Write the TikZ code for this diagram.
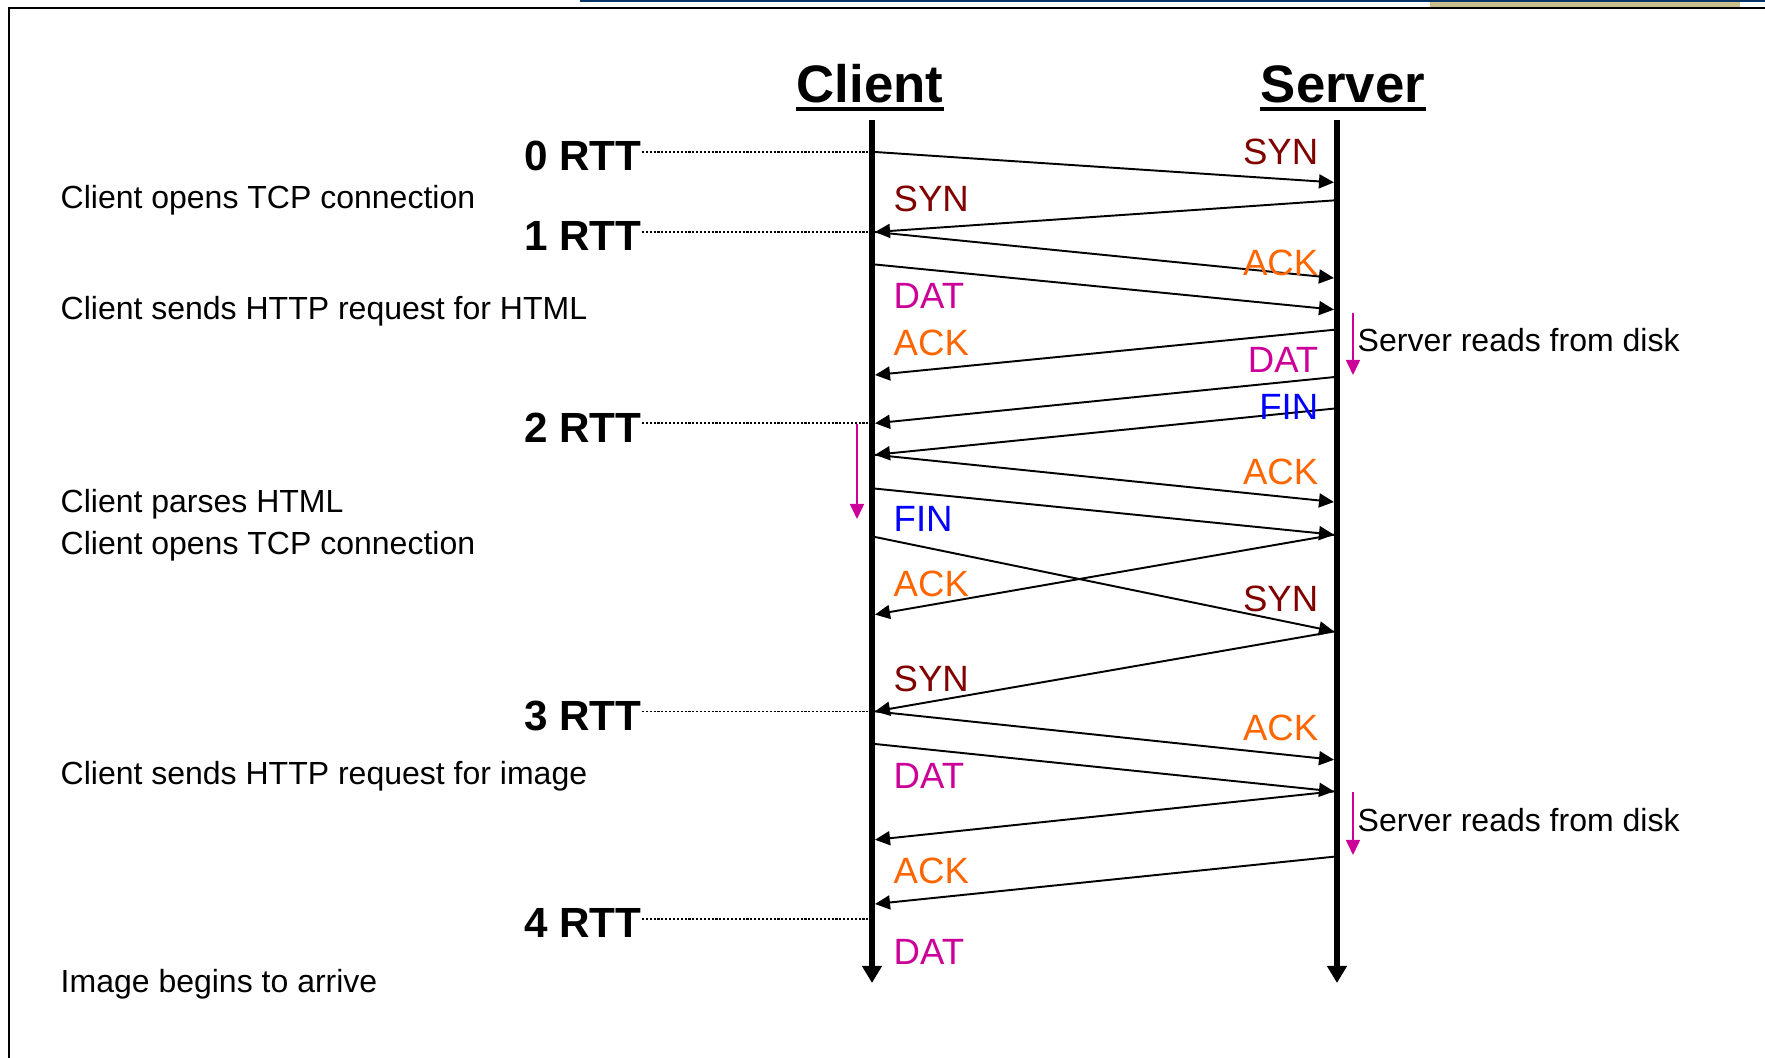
\documentclass[tikz,border=0pt]{standalone}
\usepackage{fontspec}
\setmainfont{Liberation Sans}
\usetikzlibrary{arrows.meta}

\definecolor{synred}{RGB}{128,0,0}
\definecolor{ackorange}{RGB}{255,102,0}
\definecolor{datmag}{RGB}{204,0,153}
\definecolor{finblue}{RGB}{0,0,255}
\definecolor{barnavy}{RGB}{0,51,102}
\definecolor{barkhaki}{RGB}{200,192,140}

\tikzstyle{msg}=[-{Triangle[length=0.15cm,width=0.14cm]}, line width=0.55pt]
\tikzstyle{lifeline}=[line width=1.6pt, -{Triangle[length=0.17cm,width=0.19cm]}]
\tikzstyle{busy}=[-{Triangle[length=0.15cm,width=0.14cm]}, line width=0.45pt, datmag]
\tikzstyle{rttmark}=[line width=0.5pt, dash pattern=on 0.6pt off 0.5pt]

\begin{document}
\begin{tikzpicture}[x=0.01cm, y=-0.01cm,
    head/.style = {font=\fontsize{15}{18}\selectfont\bfseries, inner sep=0pt, anchor=base},
    rtt/.style = {font=\fontsize{12}{14}\selectfont\bfseries, inner sep=0pt, anchor=base east},
    note/.style = {font=\fontsize{9.1}{11}\selectfont, inner sep=0pt, anchor=base west},
    sl/.style = {font=\fontsize{10.4}{12}\selectfont, inner sep=0pt, anchor=east},
    cl/.style = {font=\fontsize{10.4}{12}\selectfont, inner sep=0pt, anchor=west}]

    \useasboundingbox (0,0) rectangle (1765,1058);

    % slide frame
    \fill[barnavy] (580,0) rectangle (1765,2.5);
    \fill[barkhaki] (1430,2.5) rectangle (1740,7);
    \draw[line width=0.022cm] (9,1058) -- (9,8) -- (1765,8);

    % titles
    \node[head] (cli) at (870,103) {Client};
    \node[head] (srv) at (1343,103) {Server};
    \draw[line width=0.035cm] ([yshift=-0.06cm]cli.base west) -- ([yshift=-0.06cm]cli.base east);
    \draw[line width=0.035cm] ([yshift=-0.06cm]srv.base west) -- ([yshift=-0.06cm]srv.base east);

    % lifelines
    \coordinate (ctop) at (872,120);
    \coordinate (cend) at (872,983);
    \coordinate (stop) at (1337,120);
    \coordinate (send) at (1337,983);
    \draw[lifeline] (ctop) -- (cend);
    \draw[lifeline] (stop) -- (send);

    % message ends
    \foreach \n/\y in {1/152, 2/232, 3/264.5, 4/375, 5/423.3, 6/454.8, 7/488.6,
                       8/537, 9/614.6, 10/711.4, 11/744, 12/839.8, 13/904}
      \coordinate (c\n) at (875,\y);
    \foreach \n/\y in {1/182.4, 2/200.4, 3/278, 4/309.6, 5/329.8, 6/377.1, 7/408.6,
                       8/502, 9/534.7, 10/631.5, 11/759.8, 12/791.4, 13/856.7}
      \coordinate (s\n) at (1334,\y);
    \coordinate (c14) at (875,919.3);

    \path[msg]
    (c1) edge (s1)
    (s2) edge (c2)
    (c2) edge (s3)
    (c3) edge (s4)
    (s5) edge (c4)
    (s6) edge (c5)
    (s7) edge (c6)
    (c6) edge (s8)
    (c7) edge (s9)
    (s9) edge (c9)
    (c8) edge (s10)
    (s10) edge (c10)
    (c10) edge (s11)
    (c11) edge (s12)
    (s12) edge (c12)
    (s13) edge (c13);

    % server side labels
    \node[sl, text=synred] (ls1) at (1319,152) {SYN};
    \node[sl, text=ackorange] (ls2) at (1319,263) {ACK};
    \node[sl, text=datmag] (ls3) at (1319,360) {DAT};
    \node[sl, text=finblue] (ls4) at (1319,407) {FIN};
    \node[sl, text=ackorange] (ls5) at (1319,471.7) {ACK};
    \node[sl, text=synred] (ls6) at (1319,599) {SYN};
    \node[sl, text=ackorange] (ls7) at (1319,727.5) {ACK};

    % client side labels
    \node[cl, text=synred] (lc1) at (893,199) {SYN};
    \node[cl, text=datmag] (lc2) at (893,296) {DAT};
    \node[cl, text=ackorange] (lc3) at (893,343) {ACK};
    \node[cl, text=finblue] (lc4) at (893,519) {FIN};
    \node[cl, text=ackorange] (lc5) at (893,583.5) {ACK};
    \node[cl, text=synred] (lc6) at (893,679) {SYN};
    \node[cl, text=datmag] (lc7) at (893,775.5) {DAT};
    \node[cl, text=ackorange] (lc8) at (893,871) {ACK};
    \node[cl, text=datmag] (lc9) at (893,952) {DAT};

    % round trips
    \node[rtt] (r0) at (642,171) {0 RTT};
    \node[rtt] (r1) at (642,251) {1 RTT};
    \node[rtt] (r2) at (642,443) {2 RTT};
    \node[rtt] (r3) at (642,731) {3 RTT};
    \node[rtt] (r4) at (642,938) {4 RTT};
    \draw[rttmark] (r0.base east |- c1) -- (c1);
    \draw[rttmark] (r1.base east |- c2) -- (c2);
    \draw[rttmark] (r2.base east |- c5) -- (c5);
    \draw[rttmark] (r3.base east |- c10) -- (c10);
    \draw[rttmark] (r4.base east |- c14) -- (c14);

    % notes
    \node[note] (n1) at (60,209) {Client opens TCP connection};
    \node[note] (n2) at (60,320) {Client sends HTTP request for HTML};
    \node[note] (n3) at (60,513) {Client parses HTML};
    \node[note] (n4) at (60,555) {Client opens TCP connection};
    \node[note] (n5) at (60,785) {Client sends HTTP request for image};
    \node[note] (n6) at (60,993) {Image begins to arrive};

    % disk reads and parsing
    \coordinate (b1a) at (1353,313);
    \coordinate (b1b) at (1353,375);
    \coordinate (b2a) at (1353,792);
    \coordinate (b2b) at (1353,855);
    \coordinate (b3a) at (857,424);
    \coordinate (b3b) at (857,519);
    \draw[busy] (b1a) -- (b1b);
    \draw[busy] (b2a) -- (b2b);
    \draw[busy] (b3a) -- (b3b);
    \node[note] (d1) at (1357,352) {Server reads from disk};
    \node[note] (d2) at (1357,832) {Server reads from disk};
  \end{tikzpicture}
\end{document}
